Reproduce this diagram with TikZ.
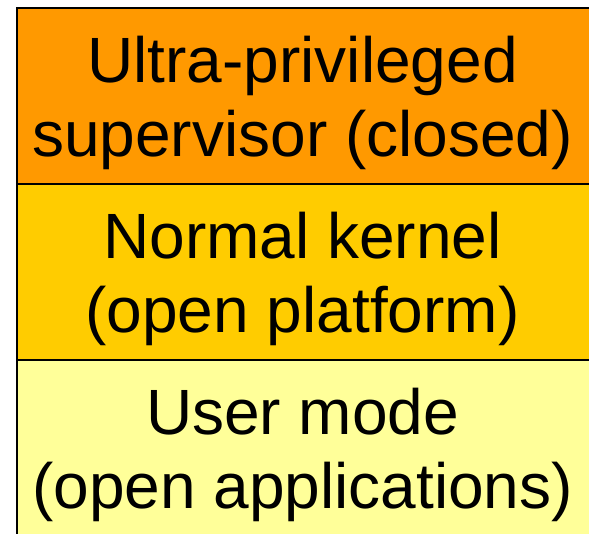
\documentclass[tikz,border=0pt]{standalone}
\usepackage{fontspec}
\setmainfont{Liberation Sans}
\definecolor{topc}{HTML}{FF9900}
\definecolor{midc}{HTML}{FFCC00}
\definecolor{lowc}{HTML}{FFFF99}
\begin{document}
\begin{tikzpicture}[x=1pt,y=-1pt,
  layerbox/.style={draw=black, line width=2pt, inner sep=0pt, outer sep=0pt, anchor=north west, minimum width=576pt, minimum height=176pt},
  label/.style={anchor=base, inner sep=0pt, font=\fontsize{64}{74}\selectfont, text=black}]
\useasboundingbox (0,0) rectangle (589,533);
\begin{scope}
\clip (0,0) rectangle (589,533);
\node[layerbox, fill=topc] (sup) at (17,8) {};
\node[layerbox, fill=midc] (ker) at (17,184) {};
\node[layerbox, fill=lowc] (usr) at (17,360) {};
\end{scope}
\node[label] (sup1) at (302.5,82) {Ultra-privileged};
\node[label] (sup2) at (302.5,156) {supervisor (closed)};
\node[label] (ker1) at (302.5,258) {Normal kernel};
\node[label] (ker2) at (302.5,332) {(open platform)};
\node[label] (usr1) at (302.5,434) {User mode};
\node[label] (usr2) at (302.5,508) {(open applications)};
\end{tikzpicture}
\end{document}
